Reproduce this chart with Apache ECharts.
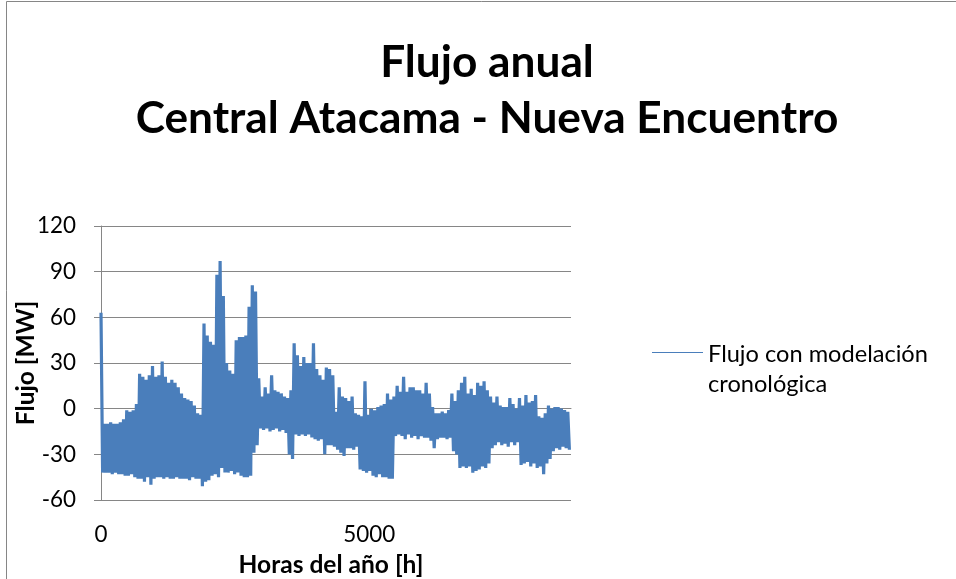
<!DOCTYPE html>
<html>
<head>
<meta charset="utf-8">
<script src="https://cdn.jsdelivr.net/npm/echarts@6/dist/echarts.min.js"></script>
<style>
  html, body { margin: 0; padding: 0; background: #fff; }
  #chart { width: 956px; height: 579px; }
</style>
</head>
<body>
<div id="chart"></div>
<script>
// Hourly power flow over one year, summarised in 60-hour blocks:
// for each block the highest and the lowest flow reached (MW).
const BIN_HOURS = 60;
const YEAR_HOURS = 8760;

const flowHigh = [
  63, -10, -10, -9, -10, -10, -9, -7, -1, -2,
  -1, 3, 23, 21, 19, 22, 28, 21, 22, 31,
  21, 17, 19, 17, 14, 10, 7, 6, 5, 2,
  -3, -4, 56, 48, 44, 42, 88, 97, 74, 30,
  25, 23, 45, 47, 47, 48, 67, 81, 77, 20,
  8, 14, 10, 22, 12, 11, 10, 8, 7, 12,
  43, 35, 28, 34, 30, 30, 43, 26, 22, 19,
  27, 26, 22, -2, 14, 8, 7, 5, 8, -3,
  -4, -5, 18, -4, 0, -1, 1, 2, 3, 10,
  6, 8, 15, 11, 21, 11, 14, 14, 12, 12,
  10, 17, 10, 1, -3, -3, -2, -3, -1, 10,
  5, 12, 17, 21, 10, 13, 9, 17, 15, 18,
  12, 8, 4, 8, 2, 1, 1, 7, 3, 0,
  7, 2, 9, 4, 5, 9, -5, -6, -3, 2,
  0, 1, 1, 0, -1, -2
];

const flowLow = [
  -42, -42, -42, -43, -42, -43, -43, -44, -44, -43,
  -45, -46, -46, -48, -45, -50, -46, -45, -45, -46,
  -45, -46, -46, -45, -46, -46, -46, -47, -45, -46,
  -46, -51, -48, -47, -44, -43, -45, -39, -42, -42,
  -41, -43, -42, -44, -45, -45, -44, -29, -24, -13,
  -14, -13, -15, -14, -13, -15, -14, -16, -30, -33,
  -17, -18, -17, -18, -17, -19, -20, -21, -20, -30,
  -24, -24, -25, -27, -29, -31, -26, -26, -27, -25,
  -40, -41, -42, -41, -44, -45, -43, -45, -45, -46,
  -46, -18, -17, -18, -20, -17, -19, -18, -20, -18,
  -19, -19, -21, -26, -20, -19, -19, -20, -19, -28,
  -30, -39, -38, -39, -38, -42, -41, -40, -38, -39,
  -36, -26, -24, -22, -24, -23, -25, -22, -24, -22,
  -37, -36, -35, -38, -36, -39, -38, -43, -36, -33,
  -28, -26, -27, -25, -26, -27
];

const yTicks = { min: -60, max: 120, step: 30 };
const xTickValues = [0, 5000];

const titleLines = ['Flujo anual', 'Central Atacama - Nueva Encuentro'];
const xName = 'Horas del año [h]';
const yName = 'Flujo [MW]';
const seriesName = 'Flujo con modelación cronológica';
const legendLines = ['Flujo con modelación', 'cronológica'];

// Each block contributes its peak then its trough, so the trace
// swings through the block's full range as the hourly signal does.
const trace = [];
flowHigh.forEach((v, j) => {
  trace.push([j * BIN_HOURS, v]);
  trace.push([j * BIN_HOURS + BIN_HOURS / 2, flowLow[j]]);
});

const FAMILY = 'Lato, "Open Sans", sans-serif';
const measureCtx = document.createElement('canvas').getContext('2d');
function sizeFor(text, weight, width) {
  measureCtx.font = weight + ' 100px Lato';
  return 100 * width / measureCtx.measureText(text).width;
}
const titleSize = sizeFor(titleLines[1], 'bold', 703);
const tickSize = sizeFor('5000', 'normal', 52);
const nameSize = sizeFor(xName, 'bold', 185);
const legendSize = sizeFor(legendLines[0], 'normal', 220);

const GRID = '#868686';
const BLUE = '#4A7EBB';

const chart = echarts.init(document.getElementById('chart'), null, { renderer: 'canvas' });
chart.setOption({
  animation: false,
  backgroundColor: '#ffffff',
  grid: { left: 101, right: 385, top: 226, bottom: 79, containLabel: false, outerBoundsMode: 'none' },
  xAxis: {
    type: 'value',
    min: 0,
    max: YEAR_HOURS,
    name: xName,
    nameLocation: 'middle',
    nameGap: 53,
    nameMoveOverlap: false,
    nameTextStyle: { fontFamily: FAMILY, fontWeight: 'bold', fontSize: nameSize, color: '#000', padding: [0, 10, 0, 0] },
    axisLine: { show: true, lineStyle: { color: GRID, width: 1 } },
    axisTick: { show: true, customValues: xTickValues, length: 7, inside: false, lineStyle: { color: GRID } },
    axisLabel: {
      customValues: xTickValues,
      formatter: (v) => String(v),
      fontFamily: FAMILY, fontSize: tickSize, color: '#000', margin: 24
    },
    splitLine: { show: false }
  },
  yAxis: {
    type: 'value',
    min: yTicks.min,
    max: yTicks.max,
    interval: yTicks.step,
    name: yName,
    nameLocation: 'middle',
    nameRotate: 90,
    nameGap: 62,
    nameMoveOverlap: false,
    nameTextStyle: { fontFamily: FAMILY, fontWeight: 'bold', fontSize: nameSize, color: '#000' },
    axisLine: { show: true, lineStyle: { color: GRID, width: 1 } },
    axisTick: { show: true, length: 7, inside: false, lineStyle: { color: GRID } },
    axisLabel: { fontFamily: FAMILY, fontSize: tickSize, color: '#000', margin: 25 },
    splitLine: { show: true, lineStyle: { color: GRID, width: 1 } }
  },
  series: [{
    name: seriesName,
    type: 'line',
    data: trace,
    showSymbol: false,
    symbol: 'none',
    sampling: null,
    lineStyle: { color: BLUE, width: 3.2, join: 'bevel' },
    itemStyle: { color: BLUE },
    z: 3
  }],
  graphic: [
    {
      type: 'rect',
      shape: { x: 6.5, y: 1.5, width: 1000, height: 1000 },
      style: { fill: 'none', stroke: GRID, lineWidth: 1 },
      silent: true, z: 0
    },
    {
      type: 'text', x: 487, y: 63,
      style: { text: titleLines[0], font: 'bold ' + titleSize + 'px ' + FAMILY, fill: '#000', textAlign: 'center', textVerticalAlign: 'middle' }
    },
    {
      type: 'text', x: 487, y: 119,
      style: { text: titleLines[1], font: 'bold ' + titleSize + 'px ' + FAMILY, fill: '#000', textAlign: 'center', textVerticalAlign: 'middle' }
    },
    {
      type: 'line',
      shape: { x1: 652, y1: 352.5, x2: 703, y2: 352.5 },
      style: { stroke: BLUE, lineWidth: 1.2 }
    },
    {
      type: 'text', x: 708, y: 354,
      style: { text: legendLines[0], font: legendSize + 'px ' + FAMILY, fill: '#000', textAlign: 'left', textVerticalAlign: 'middle' }
    },
    {
      type: 'text', x: 708, y: 384,
      style: { text: legendLines[1], font: legendSize + 'px ' + FAMILY, fill: '#000', textAlign: 'left', textVerticalAlign: 'middle' }
    }
  ]
});
</script>
</body>
</html>
